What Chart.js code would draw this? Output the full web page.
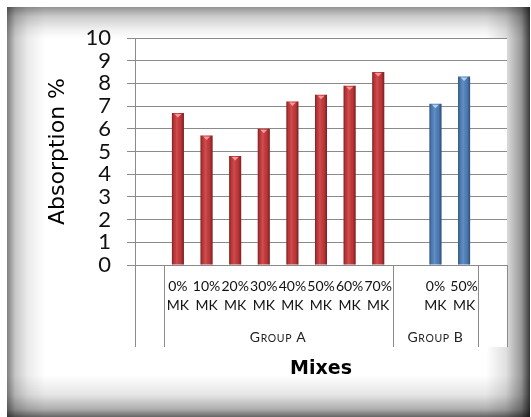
<!DOCTYPE html>
<html>
<head>
<meta charset="utf-8">
<script src="https://cdn.jsdelivr.net/npm/chart.js@4/dist/chart.umd.min.js"></script>
<style>
  html, body { margin: 0; padding: 0; background: #fff; overflow: hidden; }
  #frame {
    position: absolute; left: 7px; top: 7px; width: 523px; height: 412px;
    background-color: #fff;
    background-image:
      linear-gradient(to right, rgba(0,0,0,0.5), rgba(0,0,0,0.22) 22%, rgba(0,0,0,0.08) 55%, rgba(0,0,0,0)),
      linear-gradient(to bottom, rgba(0,0,0,0.42), rgba(0,0,0,0.2) 30%, rgba(0,0,0,0.06) 70%, rgba(0,0,0,0)),
      linear-gradient(to left, rgba(0,0,0,0.78), rgba(0,0,0,0.4) 20%, rgba(0,0,0,0.12) 55%, rgba(0,0,0,0)),
      linear-gradient(to top, rgba(0,0,0,0.68), rgba(0,0,0,0.32) 22%, rgba(0,0,0,0.1) 55%, rgba(0,0,0,0));
    background-size: 38px 100%, 100% 32px, 44px 100%, 100% 44px;
    background-position: left top, left top, right top, left bottom;
    background-repeat: no-repeat;
  }
  #wrap { position: absolute; left: 0; top: 0; width: 531px; height: 417px; }
</style>
</head>
<body>
<div id="frame"></div>
<div id="wrap"><canvas id="chart" width="531" height="417"></canvas></div>
<script>
// values
const groupALabels = ['0% MK', '10% MK', '20% MK', '30% MK', '40% MK', '50% MK', '60% MK', '70% MK'];
const groupAValues = [6.7, 5.7, 4.8, 6.0, 7.2, 7.5, 7.9, 8.5];
const groupBLabels = ['0% MK', '50% MK'];
const groupBValues = [7.1, 8.3];
const groupNames = ['Group A', 'Group B'];
const yMin = 0;
const yMax = 10;
const yStep = 1;

// category layout: blank, group A, blank + group B, blank
const labels = [['']];
const dataA = [null];
const dataB = [null];
groupALabels.forEach((l, i) => { labels.push(l.split(' ')); dataA.push(groupAValues[i]); dataB.push(null); });
const groupAStart = 1, groupAEnd = labels.length - 1;
labels.push(['']); dataA.push(null); dataB.push(null);
const groupBStart = labels.length - 1;
groupBLabels.forEach((l, i) => { labels.push(l.split(' ')); dataA.push(null); dataB.push(groupBValues[i]); });
const groupBEnd = labels.length - 1;
labels.push(['']); dataA.push(null); dataB.push(null);

const groups = [
  { name: groupNames[0], start: groupAStart, end: groupAEnd },
  { name: groupNames[1], start: groupBStart, end: groupBEnd }
];

const FONT = 'Lato, "Open Sans", sans-serif';
const WIDE = '"DejaVu Sans", sans-serif';
const GRID = '#8a8a8a';

const drawSmallCaps = (ctx, text, cx, y, big, small) => {
    const parts = text.split('').map(ch => {
        const isLower = ch !== ch.toUpperCase();
        return { ch: ch.toUpperCase(), size: isLower ? small : big };
    });
    let total = 0;
    parts.forEach(p => {
        ctx.font = `${p.size}px ${FONT}`;
        p.w = ctx.measureText(p.ch).width + 0.6;
        total += p.w;
    });
    let x = cx - total / 2;
    ctx.textAlign = 'left';
    ctx.textBaseline = 'alphabetic';
    parts.forEach(p => {
        ctx.font = `${p.size}px ${FONT}`;
        ctx.fillText(p.ch, x, y);
        x += p.w;
    });
};

const chartDecor = {
    id: 'chartDecor',
    beforeDraw(chart) {
        const { ctx, chartArea } = chart;
        ctx.save();
        ctx.fillStyle = '#fff';
        ctx.fillRect(chartArea.left, chartArea.top, chartArea.right - chartArea.left, 347 - chartArea.top);
        ctx.restore();
    },
    afterDatasetsDraw(chart) {
        const { ctx } = chart;
        ctx.save();
        chart.data.datasets.forEach((ds, di) => {
            const meta = chart.getDatasetMeta(di);
            meta.data.forEach((bar, i) => {
                if (ds.data[i] == null) return;
                const left = bar.x - bar.width / 2;
                const w = bar.width;
                const h = bar.base - bar.y;
                const g = ctx.createLinearGradient(left, 0, left + w, 0);
                g.addColorStop(0, 'rgba(0,0,0,0.38)');
                g.addColorStop(0.18, 'rgba(0,0,0,0.05)');
                g.addColorStop(0.4, 'rgba(255,255,255,0.12)');
                g.addColorStop(0.75, 'rgba(0,0,0,0.05)');
                g.addColorStop(1, 'rgba(0,0,0,0.42)');
                ctx.fillStyle = g;
                ctx.fillRect(left, bar.y, w, h);
                // bevel triangle on top
                ctx.fillStyle = ds.topColor;
                ctx.beginPath();
                ctx.moveTo(bar.x - 3.5, bar.y + 1);
                ctx.lineTo(bar.x + 3.5, bar.y + 1);
                ctx.lineTo(bar.x, bar.y + 4.5);
                ctx.closePath();
                ctx.fill();
            });
        });
        ctx.restore();
    },
    afterDraw(chart) {
        const { ctx, chartArea } = chart;
        const x = chart.scales.x;
        const half = (x.getPixelForValue(1) - x.getPixelForValue(0)) / 2;
        const lineBottom = 347;
        const edges = [chartArea.left, chartArea.right];
        groups.forEach(gr => {
            edges.push(x.getPixelForValue(gr.start) - half);
            edges.push(x.getPixelForValue(gr.end) + half);
        });
        ctx.save();
        ctx.strokeStyle = GRID;
        ctx.lineWidth = 1;
        edges.forEach(px => {
            const p = Math.round(px) + 0.5;
            ctx.beginPath();
            ctx.moveTo(p, chartArea.bottom);
            ctx.lineTo(p, lineBottom);
            ctx.stroke();
        });
        ctx.fillStyle = '#222';
        groups.forEach(gr => {
            const cx = (x.getPixelForValue(gr.start) + x.getPixelForValue(gr.end)) / 2;
            drawSmallCaps(ctx, gr.name, cx, 342, 14, 10.5);
        });
        ctx.restore();
    }
};

new Chart(document.getElementById('chart'), {
    type: 'bar',
    data: {
        labels: labels,
        datasets: [{
            data: dataA,
            backgroundColor: '#c8383a',
            borderWidth: 0,
            topColor: 'rgba(255,160,160,0.9)'
        }, {
            data: dataB,
            backgroundColor: '#4f81bd',
            borderWidth: 0,
            topColor: 'rgba(190,215,245,0.9)'
        }]
    },
    options: {
        responsive: false,
        animation: false,
        events: [],
        layout: { padding: { left: 0, right: 24, top: 38, bottom: 0 } },
        datasets: {
            bar: { grouped: false, categoryPercentage: 1, barPercentage: 0.42 }
        },
        plugins: {
            legend: { display: false },
            tooltip: { enabled: false }
        },
        scales: {
            y: {
                min: yMin,
                max: yMax,
                afterFit: (scale) => { scale.width = 135; },
                ticks: {
                    stepSize: yStep,
                    autoSkip: false,
                    color: '#111',
                    padding: 16,
                    font: { family: FONT, size: 22, lineHeight: 1 }
                },
                grid: { color: GRID, tickLength: 8 },
                border: { display: true, color: GRID },
                title: {
                    display: true,
                    text: 'Absorption %',
                    color: '#000',
                    font: { family: WIDE, size: 22 },
                    padding: { top: 45, bottom: 0 }
                }
            },
            x: {
                afterFit: (scale) => { scale.height = 152; },
                ticks: {
                    color: '#111',
                    autoSkip: false,
                    maxRotation: 0,
                    minRotation: 0,
                    padding: 12,
                    font: { family: FONT, size: 14, lineHeight: 1.35 }
                },
                grid: { display: false, drawTicks: false },
                border: { display: true, color: GRID },
                title: {
                    display: true,
                    text: 'Mixes',
                    color: '#000',
                    font: { family: WIDE, size: 19, weight: 'bold' },
                    padding: { top: 0, bottom: 37 }
                }
            }
        }
    },
    plugins: [chartDecor]
});
</script>
</body>
</html>
